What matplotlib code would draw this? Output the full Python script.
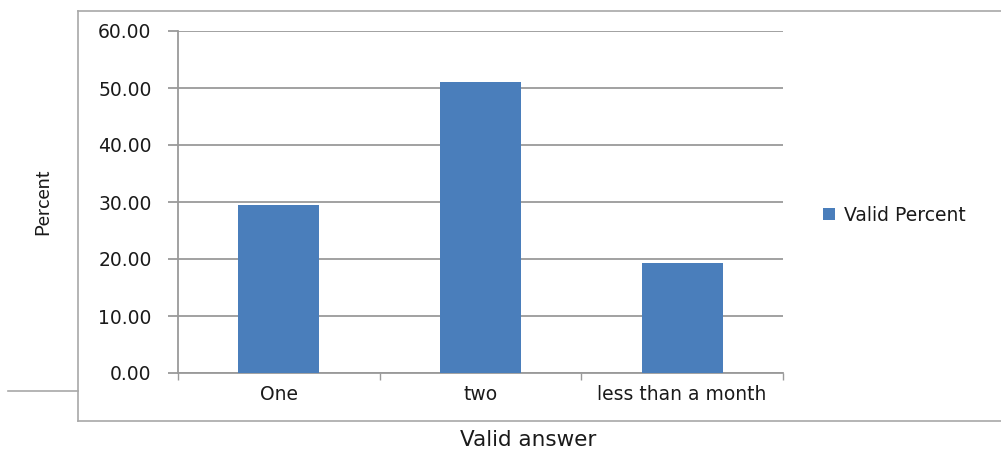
import matplotlib
matplotlib.use("Agg")
import matplotlib.pyplot as plt
from matplotlib.lines import Line2D

categories = ["One", "two", "less than a month"]
valid_percent = [29.4, 51.1, 19.3]
y_ticks = [0, 10, 20, 30, 40, 50, 60]
series_name = "Valid Percent"

plt.rcParams["font.family"] = ["DejaVu Sans"]

W, H = 1001, 451
fig = plt.figure(figsize=(W / 100, H / 100), dpi=100)
fig.patch.set_facecolor("white")

grey = "#9a9a9a"
text_color = "#1a1a1a"
bar_color = "#4a7ebb"

def fx(px):
    return px / W

def fy(py):
    return 1 - py / H

ax = fig.add_axes([fx(178), fy(373), fx(783) - fx(178), fy(31) - fy(373)])
x = list(range(len(categories)))
ax.bar(x, valid_percent, width=0.4, color=bar_color, label=series_name, zorder=3)

ax.set_xlim(-0.5, len(categories) - 0.5)
ax.set_ylim(0, 60)
ax.set_yticks(y_ticks)
ax.set_yticklabels([f"{v:.2f}" for v in y_ticks])
ax.yaxis.grid(True, color=grey, linewidth=1.3, zorder=0)
ax.set_axisbelow(True)

# category labels sit between the boundary ticks
ax.set_xticks([i - 0.5 for i in range(len(categories) + 1)])
ax.set_xticklabels([])
ax.set_xticks(x, minor=True)
ax.set_xticklabels(categories, minor=True)
ax.tick_params(axis="x", which="major", direction="out", length=5, color=grey, width=1)
ax.tick_params(axis="x", which="minor", length=0, pad=9, labelsize=13.5, labelcolor=text_color)
ax.tick_params(axis="y", direction="out", length=7, color=grey, width=1.3,
               pad=12, labelsize=13.5, labelcolor=text_color)

for side in ("top", "right"):
    ax.spines[side].set_visible(False)
for side in ("left", "bottom"):
    ax.spines[side].set_color(grey)
    ax.spines[side].set_linewidth(1.3)

fig.text(fx(43), fy(202), "Percent", rotation=90, ha="center", va="center",
         fontsize=14, color=text_color, family=["Lato", "DejaVu Sans"])
fig.text(fx(528), fy(440), "Valid answer", ha="center", va="center",
         fontsize=15.5, color=text_color)

leg = ax.legend(loc="center left", bbox_to_anchor=(fx(823), fy(215)),
                bbox_transform=fig.transFigure, frameon=False, borderaxespad=0,
                borderpad=0, handlelength=0.65, handleheight=0.65,
                handletextpad=0.45, fontsize=13.5)
for t in leg.get_texts():
    t.set_color(text_color)

# outer chart frame
frame_lines = [
    ([78, 1001], [11, 11]),
    ([78, 78], [11, 421]),
    ([78, 1001], [421, 421]),
    ([8, 78], [391, 391]),
]
for xs, ys in frame_lines:
    fig.add_artist(Line2D([fx(v) for v in xs], [fy(v) for v in ys],
                          transform=fig.transFigure, color="#a8a8a8", linewidth=1.2))

fig.savefig("out.png", dpi=100, facecolor="white")
